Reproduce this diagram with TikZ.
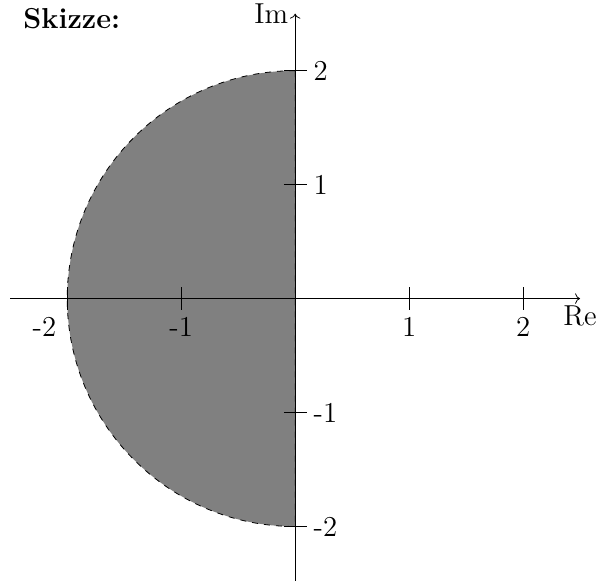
\documentclass[tikz,border=0pt]{standalone}
\usepackage{tikz}
\usetikzlibrary{arrows.meta}

\begin{document}
\begin{tikzpicture}[>=To, x=2cm, y=2cm, font=\Large,
  region/.style={fill=gray, draw=black, dashed},
  axis/.style={->}]
  \useasboundingbox (-2.59,-2.47) rectangle (2.64,2.62);
  \filldraw[region] (0,2) arc[start angle=90, end angle=270, radius=2] -- cycle;
  \draw[axis] (-2.5,0) -- (2.5,0) node[below] (re) {Re};
  \draw[axis] (0,-2.5) -- (0,2.5) node[left] (im) {Im};
  \foreach \x/\lx/\n in {-2/-2.2/a, -1/-1/b, 1/1/c, 2/2/d} {
    \draw (\x,-0.1) -- (\x,0.1);
    \draw (-0.1,\x) -- (0.1,\x);
    \node[below] (xl\n) at (\lx,-0.1) {\x};
    \node[right] (yl\n) at (0.1,\x) {\x};
  }
  \node[font=\Large\bfseries] (title) at (-1.96,2.46) {Skizze:};
\end{tikzpicture}
\end{document}
